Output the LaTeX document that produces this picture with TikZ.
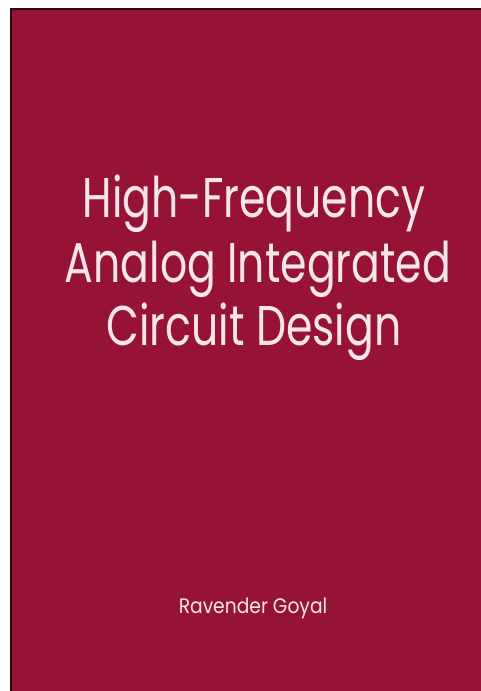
\documentclass[tikz,border=0pt]{standalone}
\usepackage{fontspec}
\setmainfont{Poppins}
\definecolor{cover}{HTML}{961335}
\definecolor{edge}{HTML}{2A0A12}
\definecolor{ink}{HTML}{F6E6EB}
\newcommand{\narrowtitle}[1]{\scalebox{0.76}[1]{#1}}
\newcommand{\narrowauthor}[1]{\scalebox{0.89}[1]{#1}}
\tikzset{
  title/.style={anchor=base, text=ink, font=\fontsize{56}{56}\selectfont, inner sep=0pt},
  author/.style={anchor=base, text=ink, font=\fontsize{21}{21}\selectfont, inner sep=0pt}
}
\begin{document}
\begin{tikzpicture}[x=1pt,y=-1pt]
\useasboundingbox (0,0) rectangle (481,691);
\fill[white] (0,0) rectangle (481,691);
\fill[cover] (10,8) rectangle (481,691);
\draw[edge, line width=2pt] (11,691) -- (11,9) -- (481,9);
\node[title] (l1) at (254,217) {\narrowtitle{High-Frequency}};
\node[title] (l2) at (258,282) {\narrowtitle{Analog Integrated}};
\node[title] (l3) at (254,345) {\narrowtitle{Circuit Design}};
\node[author] (au) at (253,613) {\narrowauthor{Ravender Goyal}};
\end{tikzpicture}
\end{document}
